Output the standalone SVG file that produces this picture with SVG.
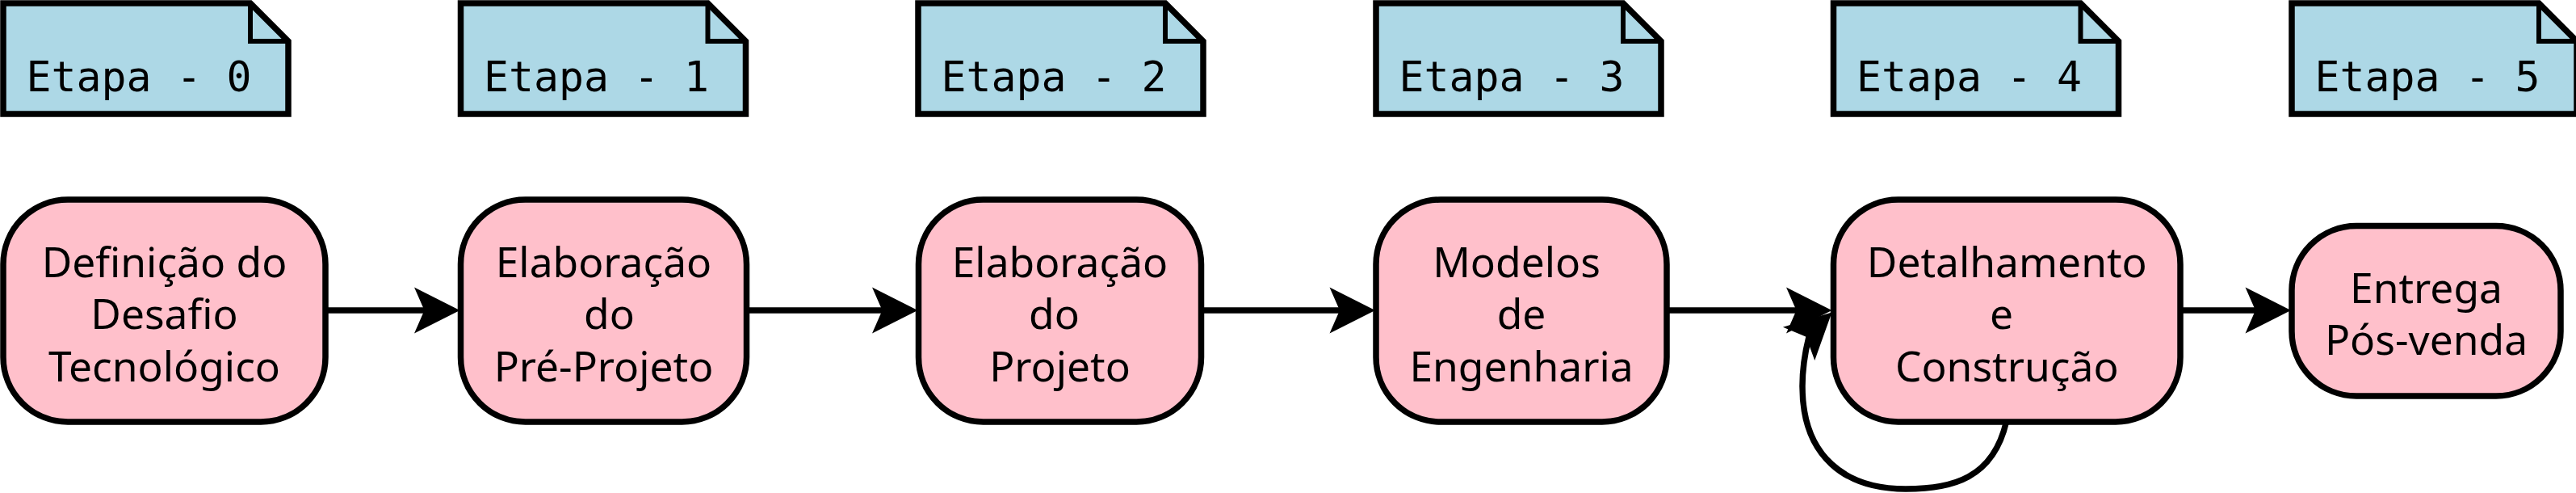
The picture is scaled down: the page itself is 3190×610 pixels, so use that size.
<svg xmlns="http://www.w3.org/2000/svg" xmlns:xlink="http://www.w3.org/1999/xlink" width="3190" height="610" viewBox="0 0 3190 610">
<style>
.note{fill:#add8e6;stroke:#000;stroke-width:7.5;stroke-linejoin:miter}
.fold{fill:none;stroke:#000;stroke-width:6}
.ntxt{font-family:"DejaVu Sans Mono","Liberation Mono",monospace;font-size:51.5px;fill:#000;text-anchor:middle}
.box{fill:#ffc0cb;stroke:#000;stroke-width:7.5}
.btxt{font-family:"Noto Sans","Open Sans","DejaVu Sans",sans-serif;font-size:51.5px;fill:#000;text-anchor:middle}
.edge{fill:none;stroke:#000;stroke-width:7.5}
.head{fill:#000;stroke:none}
</style>
<defs>
<path id="notebody" d="M0,4 H306 L353,51 V141 H0 Z"/>
<path id="notefold" d="M306,4 V51 H353"/>
<path id="ah" d="M0,0 L-56.5,-28.5 L-44,0 L-56.5,28.5 Z"/>
</defs>
<rect width="3190" height="610" fill="#fff"/>
<g id="note0" transform="translate(4,0)"><use xlink:href="#notebody" class="note"/><use xlink:href="#notefold" class="fold"/><text class="ntxt" x="168" y="112.5">Etapa - 0</text></g>
<g id="note1" transform="translate(570.5,0)"><use xlink:href="#notebody" class="note"/><use xlink:href="#notefold" class="fold"/><text class="ntxt" x="168" y="112.5">Etapa - 1</text></g>
<g id="note2" transform="translate(1137,0)"><use xlink:href="#notebody" class="note"/><use xlink:href="#notefold" class="fold"/><text class="ntxt" x="168" y="112.5">Etapa - 2</text></g>
<g id="note3" transform="translate(1704,0)"><use xlink:href="#notebody" class="note"/><use xlink:href="#notefold" class="fold"/><text class="ntxt" x="168" y="112.5">Etapa - 3</text></g>
<g id="note4" transform="translate(2270.5,0)"><use xlink:href="#notebody" class="note"/><use xlink:href="#notefold" class="fold"/><text class="ntxt" x="168" y="112.5">Etapa - 4</text></g>
<g id="note5" transform="translate(2838,0)"><use xlink:href="#notebody" class="note"/><use xlink:href="#notefold" class="fold"/><text class="ntxt" x="168" y="112.5">Etapa - 5</text></g>

<g id="node0"><rect class="box" x="4" y="247" width="399" height="275" rx="80" ry="80"/>
<text class="btxt" y="342.5"><tspan x="203.5">Definição do</tspan><tspan x="203.5" y="407">Desafio</tspan><tspan x="203.5" y="471.5">Tecnológico</tspan></text></g>
<g id="node1"><rect class="box" x="570.5" y="247" width="354" height="275" rx="80" ry="80"/>
<text class="btxt" y="342.5"><tspan x="747.5">Elaboração</tspan><tspan x="754.5" y="407">do</tspan><tspan x="747.5" y="471.5">Pré-Projeto</tspan></text></g>
<g id="node2"><rect class="box" x="1137.5" y="247" width="350" height="275" rx="80" ry="80"/>
<text class="btxt" y="342.5"><tspan x="1312.5">Elaboração</tspan><tspan x="1305.5" y="407">do</tspan><tspan x="1312.5" y="471.5">Projeto</tspan></text></g>
<g id="node3"><rect class="box" x="1704" y="247" width="360" height="275" rx="80" ry="80"/>
<text class="btxt" y="342.5"><tspan x="1878">Modelos</tspan><tspan x="1884" y="407">de</tspan><tspan x="1884" y="471.5">Engenharia</tspan></text></g>
<g id="node4"><rect class="box" x="2270.5" y="247" width="429.5" height="275" rx="80" ry="80"/>
<text class="btxt" y="342.5"><tspan x="2485.25">Detalhamento</tspan><tspan x="2478.5" y="407">e</tspan><tspan x="2485.25" y="471.5">Construção</tspan></text></g>
<g id="node5"><rect class="box" x="2838" y="279.5" width="333" height="210.5" rx="80" ry="80"/>
<text class="btxt" y="374.5"><tspan x="3004.5">Entrega</tspan><tspan x="3004.5" y="439">Pós-venda</tspan></text></g>

<g id="connectors">
<path class="edge" d="M403,384 H530"/>
<use xlink:href="#ah" class="head" transform="translate(569.5,384)"/>
<path class="edge" d="M924.5,384 H1097"/>
<use xlink:href="#ah" class="head" transform="translate(1136.5,384)"/>
<path class="edge" d="M1487.5,384 H1663"/>
<use xlink:href="#ah" class="head" transform="translate(1703,384)"/>
<path class="edge" d="M2064,384 H2228"/>
<use xlink:href="#ah" class="head" transform="translate(2268.5,384)"/>
<path class="edge" d="M2484.5,522 C2468,592 2418,605 2360,605 C2285,605 2232,565 2232,478 C2232,458 2235,437 2240,417"/>
<use xlink:href="#ah" class="head" transform="translate(2268.5,386.5) rotate(-43.6)"/>
<path class="edge" d="M2700,384 H2797"/>
<use xlink:href="#ah" class="head" transform="translate(2837,384)"/>
</g>
</svg>
